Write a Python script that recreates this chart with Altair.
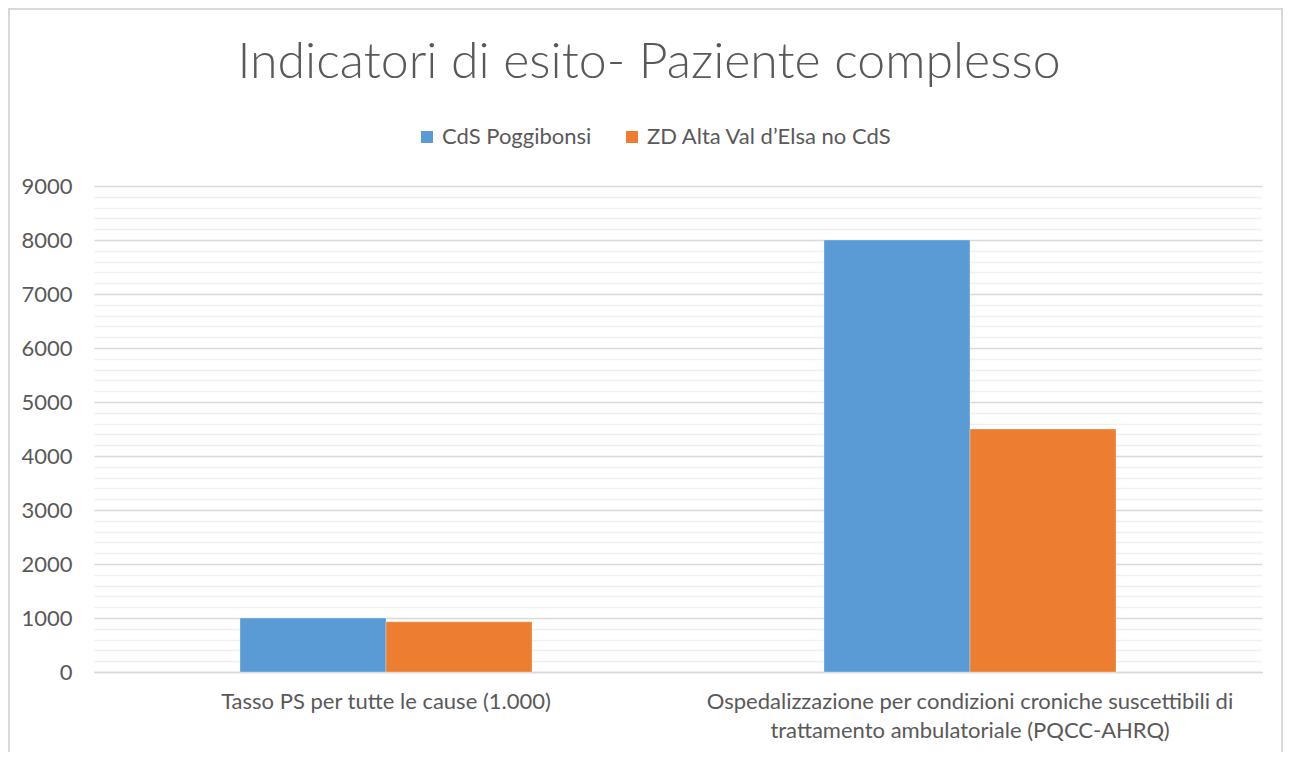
import altair as alt
import pandas as pd

categories = [
    "Tasso PS per tutte le cause (1.000)",
    "Ospedalizzazione per condizioni croniche suscettibili di\ntrattamento ambulatoriale (PQCC-AHRQ)",
]
series = ["CdS Poggibonsi", "ZD Alta Val d\u2019Elsa no CdS"]
values_cds = [1000, 8000]
values_zd = [930, 4500]
colors = ["#5b9bd5", "#ed7d31"]

rows = []
for c, a, b in zip(categories, values_cds, values_zd):
    rows.append({"cat": c, "serie": series[0], "val": a})
    rows.append({"cat": c, "serie": series[1], "val": b})
df = pd.DataFrame(rows)

FONT = "Lato"
TXT = "#595959"
FS = 22

bars = alt.Chart(df).mark_bar(stroke="white", strokeWidth=0.6, strokeOpacity=0.5).encode(
    x=alt.X("cat:N", sort=categories, title=None,
            scale=alt.Scale(paddingInner=0.5, paddingOuter=0.25),
            axis=alt.Axis(labelAngle=0, labelFontSize=FS, labelColor=TXT, labelFont=FONT,
                          labelPadding=19, labelLineHeight=29, labelLimit=700,
                          labelExpr="split(datum.label, '\\n')",
                          ticks=False, domain=True, domainColor="#d9d9d9", domainWidth=1.5,
                          grid=False)),
    xOffset=alt.XOffset("serie:N", sort=series),
    y=alt.Y("val:Q", title=None,
            scale=alt.Scale(domain=[0, 9000], nice=False),
            axis=alt.Axis(values=list(range(0, 9001, 200)), format="d",
                          labelExpr="datum.value % 1000 === 0 ? datum.label : ''",
                          labelFontSize=FS, labelColor=TXT, labelFont=FONT, labelPadding=22,
                          ticks=False, domain=False,
                          gridColor=alt.condition("datum.value % 1000 === 0",
                                                  alt.value("#d9d9d9"), alt.value("#f0f0f0")),
                          gridWidth=1.3)),
    color=alt.Color("serie:N", sort=series,
                    scale=alt.Scale(domain=series, range=colors),
                    legend=alt.Legend(title=None, orient="none", direction="horizontal",
                                      legendX=322, legendY=-60,
                                      symbolType="square", symbolSize=144,
                                      symbolStrokeWidth=0, labelLimit=500,
                                      labelFontSize=FS, labelColor=TXT, labelFont=FONT,
                                      columnPadding=29, labelOffset=4)),
)

frame = alt.Chart(alt.Data(values=[{"f": 1}])).mark_rect(
    filled=False, stroke="#d9d9d9", strokeWidth=2
).encode(
    x=alt.value(-85), x2=alt.value(1188), y=alt.value(-177), y2=alt.value(620)
)

chart = alt.layer(bars, frame).properties(
    width=1168, height=486,
    padding={"left": 86, "top": 178, "right": 22, "bottom": 80},
    autosize=alt.AutoSizeParams(type="none"),
    title=alt.TitleParams("Indicatori di esito- Paziente complesso", fontSize=50,
                          font=FONT, fontWeight=300, color=TXT, anchor="middle",
                          offset=-80, dx=-29, frame="group"),
).configure_view(stroke=None)

chart.save("out.html", embed_options={"renderer": "svg", "actions": False})
